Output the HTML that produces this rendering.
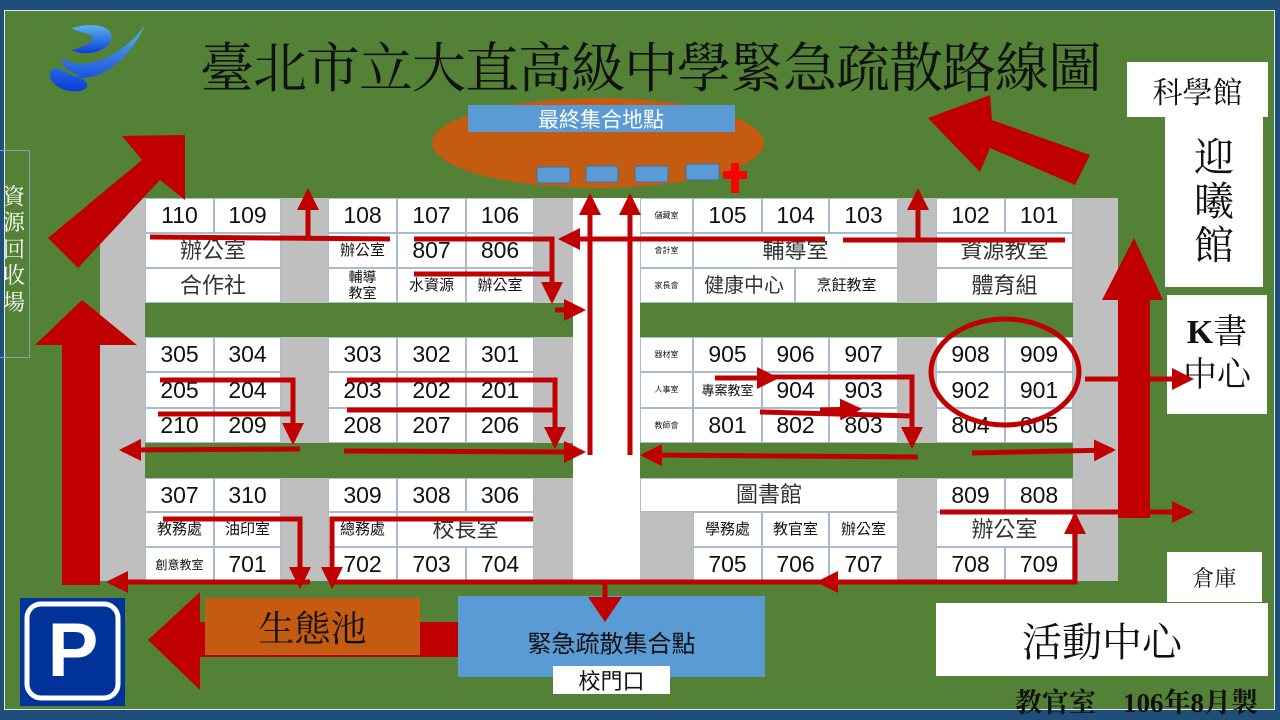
<!DOCTYPE html>
<html><head><meta charset="utf-8">
<style>
*{margin:0;padding:0;box-sizing:border-box}
body{width:1280px;height:720px;background:#1f4e79;position:relative;overflow:hidden;font-family:"Liberation Sans","Noto Sans CJK TC",sans-serif}
.g{position:absolute;left:4px;top:10px;width:1271px;height:700px;background:#538135;border:1px solid #dfe8f0}
.a{position:absolute}
.c{position:absolute;background:#fff;border:1px solid #a9bccf;display:flex;align-items:center;justify-content:center;color:#111;font-size:23px;line-height:1;white-space:nowrap}
.s{font-size:15px}
.t{font-size:8px}
.k{font-size:22px;color:#333}
.w{position:absolute;background:#fff;display:flex;align-items:center;justify-content:center;color:#111;font-family:"Liberation Serif","Noto Serif CJK SC",serif}
</style></head><body>
<div class="g"></div>
<div class="a" style="left:100px;top:198px;width:1018px;height:383px;background:#bfbfbf"></div>
<div class="a" style="left:145px;top:303px;width:428px;height:34px;background:#538135"></div>
<div class="a" style="left:640px;top:303px;width:433px;height:34px;background:#538135"></div>
<div class="a" style="left:145px;top:443px;width:428px;height:35px;background:#538135"></div>
<div class="a" style="left:640px;top:443px;width:433px;height:35px;background:#538135"></div>
<div class="a" style="left:573px;top:198px;width:67px;height:384px;background:#fff"></div>

<div class="c" style="left:145px;top:198px;width:69px;height:35px">110</div>
<div class="c" style="left:214px;top:198px;width:67px;height:35px">109</div>
<div class="c k" style="left:145px;top:233px;width:136px;height:35px">辦公室</div>
<div class="c k" style="left:145px;top:268px;width:136px;height:35px">合作社</div>
<div class="c" style="left:328px;top:198px;width:69px;height:35px">108</div>
<div class="c" style="left:397px;top:198px;width:69px;height:35px">107</div>
<div class="c" style="left:466px;top:198px;width:68px;height:35px">106</div>
<div class="c s" style="left:328px;top:233px;width:69px;height:35px">辦公室</div>
<div class="c" style="left:397px;top:233px;width:69px;height:35px">807</div>
<div class="c" style="left:466px;top:233px;width:68px;height:35px">806</div>
<div class="c" style="left:328px;top:268px;width:69px;height:35px;font-size:14px;line-height:1.1;text-align:center">輔導<br>教室</div>
<div class="c s" style="left:397px;top:268px;width:69px;height:35px">水資源</div>
<div class="c s" style="left:466px;top:268px;width:68px;height:35px">辦公室</div>
<div class="c t" style="left:640px;top:198px;width:53px;height:35px">儲藏室</div>
<div class="c" style="left:693px;top:198px;width:69px;height:35px">105</div>
<div class="c" style="left:762px;top:198px;width:67px;height:35px">104</div>
<div class="c" style="left:829px;top:198px;width:69px;height:35px">103</div>
<div class="c t" style="left:640px;top:233px;width:53px;height:35px">會計室</div>
<div class="c k" style="left:693px;top:233px;width:205px;height:35px">輔導室</div>
<div class="c t" style="left:640px;top:268px;width:53px;height:35px">家長會</div>
<div class="c" style="left:693px;top:268px;width:102px;height:35px;font-size:20px;color:#333">健康中心</div>
<div class="c s" style="left:795px;top:268px;width:103px;height:35px">烹飪教室</div>
<div class="c" style="left:936px;top:198px;width:69px;height:35px">102</div>
<div class="c" style="left:1005px;top:198px;width:68px;height:35px">101</div>
<div class="c k" style="left:936px;top:233px;width:137px;height:35px">資源教室</div>
<div class="c k" style="left:936px;top:268px;width:137px;height:35px">體育組</div>

<div class="c" style="left:145px;top:337px;width:69px;height:35px">305</div>
<div class="c" style="left:214px;top:337px;width:67px;height:35px">304</div>
<div class="c" style="left:145px;top:372px;width:69px;height:36px">205</div>
<div class="c" style="left:214px;top:372px;width:67px;height:36px">204</div>
<div class="c" style="left:145px;top:408px;width:69px;height:35px">210</div>
<div class="c" style="left:214px;top:408px;width:67px;height:35px">209</div>
<div class="c" style="left:328px;top:337px;width:69px;height:35px">303</div>
<div class="c" style="left:397px;top:337px;width:69px;height:35px">302</div>
<div class="c" style="left:466px;top:337px;width:68px;height:35px">301</div>
<div class="c" style="left:328px;top:372px;width:69px;height:36px">203</div>
<div class="c" style="left:397px;top:372px;width:69px;height:36px">202</div>
<div class="c" style="left:466px;top:372px;width:68px;height:36px">201</div>
<div class="c" style="left:328px;top:408px;width:69px;height:35px">208</div>
<div class="c" style="left:397px;top:408px;width:69px;height:35px">207</div>
<div class="c" style="left:466px;top:408px;width:68px;height:35px">206</div>
<div class="c t" style="left:640px;top:337px;width:53px;height:35px">器材室</div>
<div class="c" style="left:693px;top:337px;width:69px;height:35px">905</div>
<div class="c" style="left:762px;top:337px;width:67px;height:35px">906</div>
<div class="c" style="left:829px;top:337px;width:69px;height:35px">907</div>
<div class="c t" style="left:640px;top:372px;width:53px;height:36px">人事室</div>
<div class="c" style="left:693px;top:372px;width:69px;height:36px;font-size:13px">專案教室</div>
<div class="c" style="left:762px;top:372px;width:67px;height:36px">904</div>
<div class="c" style="left:829px;top:372px;width:69px;height:36px">903</div>
<div class="c t" style="left:640px;top:408px;width:53px;height:35px">教師會</div>
<div class="c" style="left:693px;top:408px;width:69px;height:35px">801</div>
<div class="c" style="left:762px;top:408px;width:67px;height:35px">802</div>
<div class="c" style="left:829px;top:408px;width:69px;height:35px">803</div>
<div class="c" style="left:936px;top:337px;width:69px;height:35px">908</div>
<div class="c" style="left:1005px;top:337px;width:68px;height:35px">909</div>
<div class="c" style="left:936px;top:372px;width:69px;height:36px">902</div>
<div class="c" style="left:1005px;top:372px;width:68px;height:36px">901</div>
<div class="c" style="left:936px;top:408px;width:69px;height:35px">804</div>
<div class="c" style="left:1005px;top:408px;width:68px;height:35px">805</div>

<div class="c" style="left:145px;top:478px;width:69px;height:34px">307</div>
<div class="c" style="left:214px;top:478px;width:67px;height:34px">310</div>
<div class="c s" style="left:145px;top:512px;width:69px;height:35px">教務處</div>
<div class="c s" style="left:214px;top:512px;width:67px;height:35px">油印室</div>
<div class="c" style="left:145px;top:547px;width:69px;height:35px;font-size:12px">創意教室</div>
<div class="c" style="left:214px;top:547px;width:67px;height:35px">701</div>
<div class="c" style="left:328px;top:478px;width:69px;height:34px">309</div>
<div class="c" style="left:397px;top:478px;width:69px;height:34px">308</div>
<div class="c" style="left:466px;top:478px;width:68px;height:34px">306</div>
<div class="c s" style="left:328px;top:512px;width:69px;height:35px">總務處</div>
<div class="c k" style="left:397px;top:512px;width:137px;height:35px">校長室</div>
<div class="c" style="left:328px;top:547px;width:69px;height:35px">702</div>
<div class="c" style="left:397px;top:547px;width:69px;height:35px">703</div>
<div class="c" style="left:466px;top:547px;width:68px;height:35px">704</div>
<div class="c k" style="left:640px;top:478px;width:258px;height:34px">圖書館</div>
<div class="c s" style="left:693px;top:512px;width:69px;height:35px">學務處</div>
<div class="c s" style="left:762px;top:512px;width:67px;height:35px">教官室</div>
<div class="c s" style="left:829px;top:512px;width:69px;height:35px">辦公室</div>
<div class="c" style="left:693px;top:547px;width:69px;height:35px">705</div>
<div class="c" style="left:762px;top:547px;width:67px;height:35px">706</div>
<div class="c" style="left:829px;top:547px;width:69px;height:35px">707</div>
<div class="c" style="left:936px;top:478px;width:69px;height:34px">809</div>
<div class="c" style="left:1005px;top:478px;width:68px;height:34px">808</div>
<div class="c k" style="left:936px;top:512px;width:137px;height:35px">辦公室</div>
<div class="c" style="left:936px;top:547px;width:69px;height:35px">708</div>
<div class="c" style="left:1005px;top:547px;width:68px;height:35px">709</div>

<div class="w" style="left:1127px;top:62px;width:141px;height:55px;font-size:30px">科學館</div>
<div class="w" style="left:1165px;top:117px;width:98px;height:170px;font-size:40px;line-height:1.1;flex-direction:column">迎<br>曦<br>館</div>
<div class="w" style="left:1167px;top:295px;width:100px;height:119px;font-size:34px;line-height:1.25;text-align:center"><span><b style="font-family:'Liberation Serif',serif;font-weight:900">K</b>書<br>中心</span></div>
<div class="w" style="left:1167px;top:552px;width:95px;height:50px;font-size:22px">倉庫</div>
<div class="w" style="left:936px;top:603px;width:332px;height:73px;font-size:40px">活動中心</div>
<div class="a" style="left:1015px;top:681px;font-size:27px;font-weight:bold;font-family:'Liberation Serif','Noto Serif CJK SC',serif;color:#111;white-space:nowrap">教官室　106年8月製</div>

<div class="a" style="left:-2px;top:150px;width:32px;height:208px;border:1px solid #7f9fbf;color:#fff;font-size:22px;line-height:1.2;text-align:center;padding-top:32px;font-family:'Noto Serif CJK SC',serif">資<br>源<br>回<br>收<br>場</div>

<div class="a" style="left:200px;top:26px;font-size:54px;color:#111;white-space:nowrap;font-family:'Liberation Serif','Noto Serif CJK SC',serif;letter-spacing:-1px">臺北市立大直高級中學緊急疏散路線圖</div>

<svg class="a" style="left:0;top:0" width="1280" height="720">
<defs>
<marker id="h" markerUnits="userSpaceOnUse" markerWidth="22" markerHeight="22" refX="18" refY="11" orient="auto"><path d="M0,0 L22,11 L0,22 z" fill="#c00000"/></marker>
<linearGradient id="lg" x1="0" y1="0" x2="0" y2="1"><stop offset="0" stop-color="#5ab4f0"/><stop offset="1" stop-color="#0a3cd8"/></linearGradient>
</defs>
<path d="M72,28 C100,20 120,30 108,45 C98,55 80,55 72,50 C82,47 96,42 92,36 C85,32 76,32 72,28z" fill="url(#lg)"/>
<path d="M62,58 C80,72 120,60 145,25 C130,60 100,80 80,78 C95,85 85,95 65,90 C50,85 45,72 55,68 C65,70 72,78 80,76 C70,72 60,66 62,58z" fill="url(#lg)"/>
<ellipse cx="598" cy="143" rx="166" ry="45" fill="#c55a11"/>
<rect x="468" y="105" width="267" height="27" fill="#5b9bd5"/>
<text x="601" y="127" font-size="21" fill="#fff" text-anchor="middle" font-family="Noto Sans CJK TC,sans-serif">最終集合地點</text>
<rect x="537" y="167" width="33" height="16" rx="2" fill="#5b9bd5" stroke="#41719c"/>
<rect x="586" y="166" width="32" height="16" rx="2" fill="#5b9bd5" stroke="#41719c"/>
<rect x="635" y="166" width="33" height="16" rx="2" fill="#5b9bd5" stroke="#41719c"/>
<rect x="686" y="164" width="33" height="16" rx="2" fill="#5b9bd5" stroke="#41719c"/>
<path d="M731,163h8v8h8v8h-8v14h-8v-14h-8v-8h8z" fill="#f00"/>

<polygon points="62,585 100,585 100,345 137,345 82,300 35,345 62,345" fill="#c00000"/>
<polygon points="48,238 78,268 160,180 185,200 185,135 122,136 142,160" fill="#c00000"/>
<polygon points="1090,155 1075,185 990,148 980,172 928,118 990,95 992,120" fill="#c00000"/>
<polygon points="1118,518 1150,518 1150,300 1163,300 1134,238 1102,300 1118,300" fill="#c00000"/>
<polygon points="460,622 460,657 200,657 200,690 148,640 200,592 200,622" fill="#c00000"/>
<ellipse cx="1005" cy="372" rx="74" ry="53" fill="none" stroke="#c00000" stroke-width="5"/>

<g stroke="#c00000" stroke-width="5" fill="none">
<polyline points="150,237 390,239"/>
<line x1="308" y1="238" x2="308" y2="192" marker-end="url(#h)"/>
<polyline points="414,239 552,239 552,300" marker-end="url(#h)"/>
<line x1="414" y1="274" x2="552" y2="274"/>
<line x1="555" y1="310" x2="582" y2="310" marker-end="url(#h)"/>
<line x1="825" y1="239" x2="562" y2="239" marker-end="url(#h)"/>
<line x1="590" y1="455" x2="590" y2="197" marker-end="url(#h)"/>
<line x1="630" y1="455" x2="630" y2="197" marker-end="url(#h)"/>
<line x1="843" y1="240" x2="1065" y2="240"/>
<line x1="918" y1="240" x2="918" y2="192" marker-end="url(#h)"/>
<polyline points="160,380 293,380 293,441" marker-end="url(#h)"/>
<line x1="158" y1="414" x2="293" y2="414"/>
<line x1="300" y1="449" x2="123" y2="450" marker-end="url(#h)"/>
<polyline points="347,380 555,380 555,445" marker-end="url(#h)"/>
<line x1="347" y1="410" x2="555" y2="410"/>
<line x1="344" y1="451" x2="582" y2="452" marker-end="url(#h)"/>
<line x1="715" y1="378" x2="775" y2="378" marker-end="url(#h)"/>
<polyline points="770,377 912,377 912,445" marker-end="url(#h)"/>
<line x1="760" y1="412" x2="912" y2="416"/>
<line x1="820" y1="410" x2="858" y2="409" marker-end="url(#h)"/>
<line x1="918" y1="457" x2="644" y2="455" marker-end="url(#h)"/>
<line x1="972" y1="453" x2="1112" y2="450" marker-end="url(#h)"/>
<line x1="1085" y1="379" x2="1190" y2="379" marker-end="url(#h)"/>
<line x1="940" y1="512" x2="1190" y2="512" marker-end="url(#h)"/>
<polyline points="163,519 300,519 300,585" marker-end="url(#h)"/>
<line x1="310" y1="582" x2="110" y2="582" marker-end="url(#h)"/>
<polyline points="533,519 332,519 332,585" marker-end="url(#h)"/>
<polyline points="332,582 1075,582 1075,516" marker-end="url(#h)"/>
<line x1="860" y1="582" x2="820" y2="582" marker-end="url(#h)"/>
</g>
</svg>

<div class="a" style="left:205px;top:598px;width:215px;height:57px;background:#c55a11;color:#111;font-size:36px;display:flex;align-items:center;justify-content:center;font-family:'Noto Serif CJK SC',serif">生態池</div>
<div class="a" style="left:458px;top:596px;width:307px;height:81px;background:#5b9bd5;color:#111;font-size:24px;display:flex;justify-content:center;padding-top:28px">緊急疏散集合點</div>
<div class="a" style="left:553px;top:666px;width:117px;height:28px;background:#fff;color:#111;font-size:22px;display:flex;align-items:center;justify-content:center">校門口</div>
<svg class="a" style="left:0;top:0" width="1280" height="720">
<line x1="605" y1="582" x2="605" y2="605" stroke="#c00000" stroke-width="5"/>
<polygon points="588,597 622,597 605,622" fill="#c00000"/>
<rect x="20" y="598" width="105" height="108" fill="#003399"/>
<rect x="27" y="604" width="91" height="94" rx="14" fill="none" stroke="#fff" stroke-width="5"/>
<text x="73" y="676" font-size="76" font-weight="bold" fill="#fff" text-anchor="middle" font-family="Liberation Sans,sans-serif">P</text>
</svg>
</body></html>
